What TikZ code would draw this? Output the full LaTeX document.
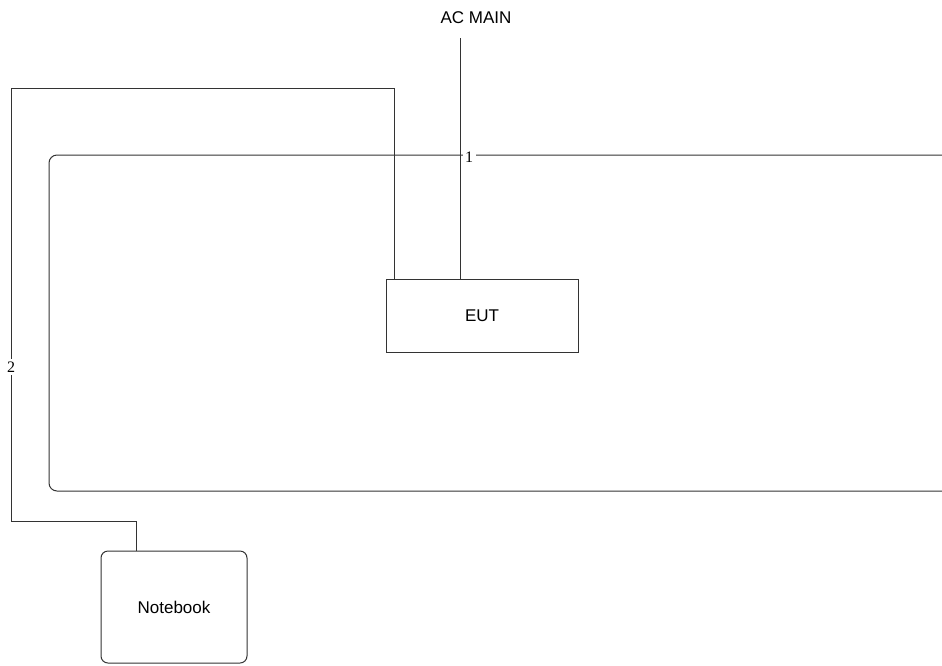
\documentclass[tikz,border=0pt]{standalone}
\usepackage{fontspec}
\setmainfont{Liberation Sans}
\newfontfamily\numfont{Liberation Serif}
\newlength{\du}
\setlength{\du}{1pt}
\begin{document}
\begin{tikzpicture}
\pgftransformxscale{1.000000}
\pgftransformyscale{-1.000000}
\definecolor{dialinecolor}{rgb}{0.200000, 0.200000, 0.200000}
\tikzset{
  unitbox/.style={draw=dialinecolor, line width=1\du, fill=white, inner sep=0pt, font=\fontsize{17}{20}\selectfont},
  wire/.style={draw=dialinecolor, line width=1\du},
  wirelabel/.style={fill=white, inner sep=2.5\du, font=\numfont\fontsize{16}{18}\selectfont}
}
\useasboundingbox (0\du,0\du) rectangle (942\du,665\du);
% setfont left to latex
\node[inner sep=0pt, font=\fontsize{17}{20}\selectfont] (acmain) at (476\du,18\du) {AC MAIN};
\node[unitbox, minimum width=192\du, minimum height=73\du] (eut) at (482\du,315.5\du) {EUT};
\node[unitbox, rounded corners=7\du, minimum width=146\du, minimum height=112\du] (notebook) at (174\du,607\du) {Notebook};
% cable loop 1
\coordinate (loopin) at (942\du,155\du);
\coordinate (loopout) at (942\du,491\du);
\draw[wire, rounded corners=8\du] (loopin) -- (49\du,155\du) -- (49\du,491\du) -- (loopout);
\node[wirelabel] (lblone) at (469\du,157\du) {1};
% AC main feed
\coordinate (acfeed) at (460\du,38\du);
\draw[wire] (acfeed) -- (acfeed |- eut.north);
% cable 2
\draw[wire] ([xshift=-88\du]eut.north) |- (11\du,88\du) -- (11\du,521\du) -| ([xshift=-38\du]notebook.north);
\node[wirelabel] (lbltwo) at (11\du,367\du) {2};
\end{tikzpicture}
\end{document}
